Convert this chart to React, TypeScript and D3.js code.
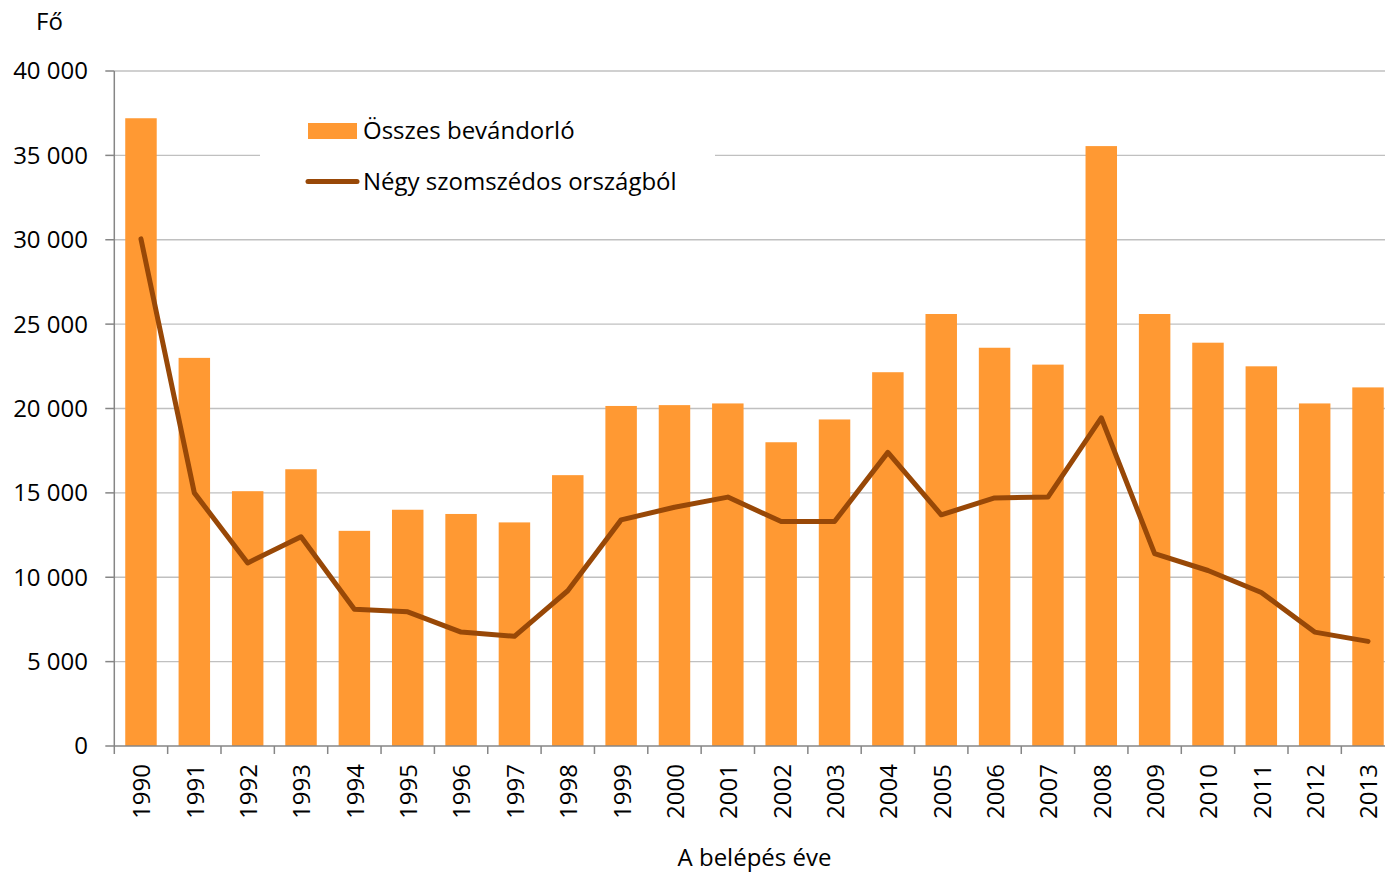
// Bevándorlók száma a belépés éve szerint: oszlop + vonal diagram
import React, { useEffect, useRef } from "react";
import * as d3 from "d3";

const years = [
  "1990", "1991", "1992", "1993", "1994", "1995", "1996", "1997",
  "1998", "1999", "2000", "2001", "2002", "2003", "2004", "2005",
  "2006", "2007", "2008", "2009", "2010", "2011", "2012", "2013",
];

// Összes bevándorló
const totalImmigrants = [
  37200, 23000, 15100, 16400, 12750, 14000, 13750, 13250,
  16050, 20150, 20200, 20300, 18000, 19350, 22150, 25600,
  23600, 22600, 35550, 25600, 23900, 22500, 20300, 21250,
];

// Négy szomszédos országból
const neighbourImmigrants = [
  30050, 15000, 10850, 12400, 8100, 7950, 6750, 6500,
  9200, 13400, 14150, 14750, 13300, 13300, 17400, 13700,
  14700, 14750, 19450, 11400, 10400, 9100, 6750, 6200,
];

const yTicks = [0, 5000, 10000, 15000, 20000, 25000, 30000, 35000, 40000];

const legendLabels = ["Összes bevándorló", "Négy szomszédos országból"];

const BAR_COLOR = "#FF9933";
const LINE_COLOR = "#984807";
const FONT = "'Open Sans', sans-serif";
const FONT_SIZE = 24;

const fmt = (v: number) => d3.format(",")(v).replace(/,/g, " ");

export default function App() {
  const ref = useRef<SVGSVGElement>(null);

  useEffect(() => {
    const width = 1385;
    const svg = d3.select(ref.current);
    svg.selectAll("*").remove();

    const left = 114.3;
    const right = 1394.7;
    const top = 71;
    const bottom = 746;

    const x = d3
      .scaleBand()
      .domain(years)
      .range([left, right])
      .paddingInner(0.41)
      .paddingOuter(0.205);
    const step = x.step();
    const y = d3.scaleLinear().domain([0, 40000]).range([bottom, top]);

    // gridlines
    svg
      .append("g")
      .selectAll("line")
      .data(yTicks.slice(1))
      .enter()
      .append("line")
      .attr("x1", left)
      .attr("x2", width)
      .attr("y1", (d) => y(d))
      .attr("y2", (d) => y(d))
      .attr("stroke", "#C0C0C0")
      .attr("stroke-width", 1.3);

    // legend background hides part of the grid
    svg
      .append("rect")
      .attr("x", 260)
      .attr("y", 100)
      .attr("width", 455)
      .attr("height", 110)
      .attr("fill", "#fff");

    // bars
    svg
      .append("g")
      .selectAll("rect")
      .data(totalImmigrants)
      .enter()
      .append("rect")
      .attr("x", (_, i) => x(years[i]) as number)
      .attr("y", (d) => y(d))
      .attr("width", x.bandwidth())
      .attr("height", (d) => bottom - y(d))
      .attr("fill", BAR_COLOR);

    // line
    const line = d3
      .line<number>()
      .x((_, i) => (x(years[i]) as number) + x.bandwidth() / 2)
      .y((d) => y(d));
    svg
      .append("path")
      .datum(neighbourImmigrants)
      .attr("d", line)
      .attr("fill", "none")
      .attr("stroke", LINE_COLOR)
      .attr("stroke-width", 5)
      .attr("stroke-linejoin", "round")
      .attr("stroke-linecap", "round");

    // y axis
    const yAxis = svg.append("g");
    yAxis
      .append("line")
      .attr("x1", left)
      .attr("x2", left)
      .attr("y1", top)
      .attr("y2", bottom)
      .attr("stroke", "#868686")
      .attr("stroke-width", 1.5);
    yAxis
      .selectAll("line.tick")
      .data(yTicks)
      .enter()
      .append("line")
      .attr("class", "tick")
      .attr("x1", left - 9)
      .attr("x2", left)
      .attr("y1", (d) => y(d))
      .attr("y2", (d) => y(d))
      .attr("stroke", "#868686")
      .attr("stroke-width", 1.5);
    yAxis
      .selectAll("text")
      .data(yTicks)
      .enter()
      .append("text")
      .attr("x", 88)
      .attr("y", (d) => y(d))
      .attr("dy", "0.35em")
      .attr("text-anchor", "end")
      .attr("font-family", FONT)
      .attr("font-size", FONT_SIZE)
      .attr("fill", "#000")
      .text((d) => fmt(d));

    // x axis
    const xAxis = svg.append("g");
    xAxis
      .append("line")
      .attr("x1", left)
      .attr("x2", width)
      .attr("y1", bottom)
      .attr("y2", bottom)
      .attr("stroke", "#868686")
      .attr("stroke-width", 1.5);
    xAxis
      .selectAll("line.tick")
      .data(d3.range(years.length + 1))
      .enter()
      .append("line")
      .attr("class", "tick")
      .attr("x1", (i) => left + i * step)
      .attr("x2", (i) => left + i * step)
      .attr("y1", bottom)
      .attr("y2", bottom + 8)
      .attr("stroke", "#868686")
      .attr("stroke-width", 1.5);
    xAxis
      .selectAll("text")
      .data(years)
      .enter()
      .append("text")
      .attr(
        "transform",
        (d) => `translate(${(x(d) as number) + x.bandwidth() / 2 + 1},764) rotate(-90)`
      )
      .attr("dy", "0.35em")
      .attr("text-anchor", "end")
      .attr("font-family", FONT)
      .attr("font-size", FONT_SIZE)
      .attr("fill", "#000")
      .text((d) => d);

    // axis titles
    svg
      .append("text")
      .attr("x", (left + right) / 2)
      .attr("y", 866)
      .attr("text-anchor", "middle")
      .attr("font-family", FONT)
      .attr("font-size", FONT_SIZE)
      .attr("fill", "#000")
      .text("A belépés éve");
    svg
      .append("text")
      .attr("x", 36)
      .attr("y", 30)
      .attr("font-family", FONT)
      .attr("font-size", FONT_SIZE)
      .attr("fill", "#000")
      .text("Fő");

    // legend
    const legend = svg.append("g");
    legend
      .append("rect")
      .attr("x", 308)
      .attr("y", 123)
      .attr("width", 49)
      .attr("height", 16)
      .attr("fill", BAR_COLOR);
    legend
      .append("line")
      .attr("x1", 308)
      .attr("x2", 357)
      .attr("y1", 181.5)
      .attr("y2", 181.5)
      .attr("stroke", LINE_COLOR)
      .attr("stroke-width", 5)
      .attr("stroke-linecap", "round");
    legend
      .selectAll("text")
      .data(legendLabels)
      .enter()
      .append("text")
      .attr("x", 363)
      .attr("y", (_, i) => 139 + i * 50.5)
      .attr("font-family", FONT)
      .attr("font-size", FONT_SIZE)
      .attr("fill", "#000")
      .text((d) => d);
  }, []);

  return (
    <svg
      ref={ref}
      width={1385}
      height={872}
      style={{ position: "absolute", left: 0, top: 0, background: "#fff" }}
    />
  );
}
